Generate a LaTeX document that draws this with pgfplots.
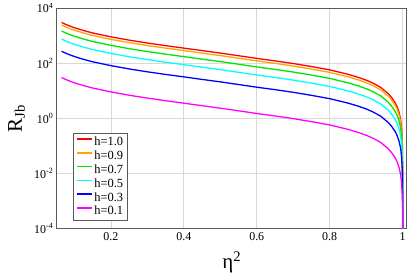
\documentclass[border=0pt]{standalone}
\usepackage{fontspec}
\setmainfont{Liberation Serif}
\usepackage{pgfplots}
\pgfplotsset{compat=1.18}
\usetikzlibrary{calc}
\definecolor{cOrange}{RGB}{255,165,0}
\definecolor{cGreen}{RGB}{0,230,0}
\definecolor{cCyan}{RGB}{0,255,255}
\definecolor{cBlue}{RGB}{0,0,255}
\definecolor{cMag}{RGB}{255,0,255}
\definecolor{cRed}{RGB}{255,0,0}
\begin{document}
\begin{tikzpicture}
\begin{axis}[
  name=ax,
  scale only axis,
  width=351pt, height=221pt,
  xmin=0.052, xmax=1.011,
  ymode=log, ymin=1e-4, ymax=1e4,
  xtick={0.2,0.4,0.6,0.8,1},
  xticklabels={0.2,0.4,0.6,0.8,1},
  ytick={1e-4,1e-2,1,1e2,1e4},
  yticklabels={10\textsuperscript{-4},10\textsuperscript{-2},10\textsuperscript{0},10\textsuperscript{2},10\textsuperscript{4}},
  minor ytick={},
  major tick length=0pt,
  grid=major,
  grid style={gray!30, line width=0.6pt},
  axis line style={gray!70!black, line width=0.8pt},
  tick label style={font=\fontsize{12}{13}\selectfont},
  xticklabel style={yshift=-1pt},
  ylabel={R\textsubscript{Jb}},
  ylabel style={font=\fontsize{21}{24}\selectfont, at={(axis description cs:-0.115,0.5)}, anchor=center},
  xlabel={η\textsuperscript{2}},
  xlabel style={font=\fontsize{21}{24}\selectfont, at={(axis description cs:0.5,-0.155)}, anchor=center},
  legend style={name=leg, at={(axis description cs:0.048,0.036)}, anchor=south west,
    draw=none, fill=white, font=\fontsize{12.5}{13}\selectfont, inner sep=2pt, row sep=-0.3pt,
    legend cell align=left},
  legend image code/.code={\draw[#1, line width=1.6pt] (1pt,3.2pt) -- (16pt,3.2pt);},
  every axis plot/.append style={line width=1.3pt, no markers},
]
\addplot[draw=cRed] coordinates {
(0.065,3020)(0.08,2455)(0.1,1950)(0.125,1549)(0.15,1259)(0.2,912)(0.25,692)(0.3,543)(0.35,437)(0.4,355)(0.45,288)(0.5,234)(0.55,188)(0.6,150)(0.65,122)(0.7,97.7)(0.75,75.9)(0.8,57.5)(0.85,39.8)(0.88,30.2)(0.9,24.3)(0.92,18.6)(0.94,13.2)(0.96,7.94)(0.97,5.62)(0.98,3.55)(0.985,2.57)(0.99,1.66)(0.994,0.955)(0.997,0.447)(0.999,0.135)(0.9997,0.0372)(0.9999,0.0112)(0.99999,0.001)(0.999999,8.9e-5)};
\addlegendentry{h=1.0}
\addplot[draw=cOrange] coordinates {
(0.065,2446)(0.08,1989)(0.1,1580)(0.125,1255)(0.15,1020)(0.2,739)(0.25,561)(0.3,440)(0.35,354)(0.4,288)(0.45,233)(0.5,190)(0.55,152)(0.6,122)(0.65,98.8)(0.7,79.1)(0.75,61.5)(0.8,46.6)(0.85,32.2)(0.88,24.5)(0.9,19.7)(0.92,15.1)(0.94,10.7)(0.96,6.43)(0.97,4.55)(0.98,2.88)(0.985,2.08)(0.99,1.34)(0.994,0.774)(0.997,0.362)(0.999,0.109)(0.9997,0.0301)(0.9999,0.00907)(0.99999,0.00081)(0.999999,7.2e-5)};
\addlegendentry{h=0.9}
\addplot[draw=cGreen] coordinates {
(0.065,1480)(0.08,1203)(0.1,956)(0.125,759)(0.15,617)(0.2,447)(0.25,339)(0.3,266)(0.35,214)(0.4,174)(0.45,141)(0.5,115)(0.55,92.1)(0.6,73.5)(0.65,59.8)(0.7,47.9)(0.75,37.2)(0.8,28.2)(0.85,19.5)(0.88,14.8)(0.9,11.9)(0.92,9.11)(0.94,6.47)(0.96,3.89)(0.97,2.75)(0.98,1.74)(0.985,1.26)(0.99,0.813)(0.994,0.468)(0.997,0.219)(0.999,0.0662)(0.9997,0.0182)(0.9999,0.00549)(0.99999,0.00049)(0.999999,4.4e-5)};
\addlegendentry{h=0.7}
\addplot[draw=cCyan] coordinates {
(0.065,755)(0.08,614)(0.1,488)(0.125,387)(0.15,315)(0.2,228)(0.25,173)(0.3,136)(0.35,109)(0.4,88.8)(0.45,72)(0.5,58.5)(0.55,47)(0.6,37.5)(0.65,30.5)(0.7,24.4)(0.75,19)(0.8,14.4)(0.85,9.95)(0.88,7.55)(0.9,6.08)(0.92,4.65)(0.94,3.3)(0.96,1.99)(0.97,1.41)(0.98,0.888)(0.985,0.643)(0.99,0.415)(0.994,0.239)(0.997,0.112)(0.999,0.0338)(0.9997,0.0093)(0.9999,0.0028)(0.99999,0.00025)(0.999999,2.2e-5)};
\addlegendentry{h=0.5}
\addplot[draw=cBlue] coordinates {
(0.065,272)(0.08,221)(0.1,176)(0.125,139)(0.15,113)(0.2,82.1)(0.25,62.3)(0.3,48.9)(0.35,39.3)(0.4,32)(0.45,25.9)(0.5,21.1)(0.55,16.9)(0.6,13.5)(0.65,11)(0.7,8.79)(0.75,6.83)(0.8,5.18)(0.85,3.58)(0.88,2.72)(0.9,2.19)(0.92,1.67)(0.94,1.19)(0.96,0.715)(0.97,0.506)(0.98,0.32)(0.985,0.231)(0.99,0.149)(0.994,0.086)(0.997,0.0402)(0.999,0.0122)(0.9997,0.00335)(0.9999,0.00101)(0.99999,9e-5)(0.999999,8e-6)};
\addlegendentry{h=0.3}
\addplot[draw=cMag] coordinates {
(0.065,30.2)(0.08,24.6)(0.1,19.5)(0.125,15.5)(0.15,12.6)(0.2,9.12)(0.25,6.92)(0.3,5.43)(0.35,4.37)(0.4,3.55)(0.45,2.88)(0.5,2.34)(0.55,1.88)(0.6,1.5)(0.65,1.22)(0.7,0.977)(0.75,0.759)(0.8,0.575)(0.85,0.398)(0.88,0.302)(0.9,0.243)(0.92,0.186)(0.94,0.132)(0.96,0.0794)(0.97,0.0562)(0.98,0.0355)(0.985,0.0257)(0.99,0.0166)(0.994,0.00955)(0.997,0.00447)(0.999,0.00135)(0.9997,0.000372)(0.9999,0.000112)(0.99999,1e-5)(0.999999,8.9e-7)};
\addlegendentry{h=0.1}
\end{axis}
\draw[gray!70!black, line width=0.6pt] (leg.south west) rectangle (leg.north east);
\path[use as bounding box] ($(ax.south west)+(-57pt,-45pt)$) rectangle ($(ax.north east)+(1pt,7pt)$);
\end{tikzpicture}
\end{document}
